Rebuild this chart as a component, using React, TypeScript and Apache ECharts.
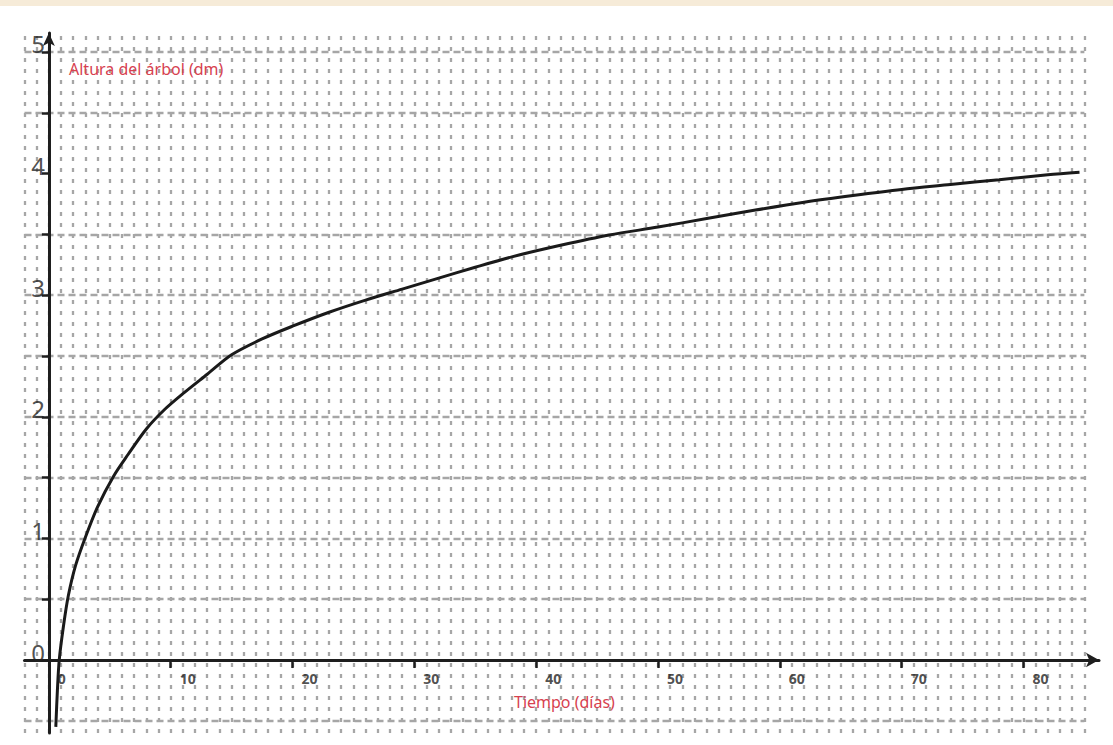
import React, { useEffect, useRef } from "react";
import * as echarts from "echarts";

// Curve: time (days) and tree height (dm)
const days = [0.57, 0.7, 0.85, 1.2, 1.6, 2.2, 3.0, 4.0, 5.3, 6.5, 8.0, 9.5, 11, 13, 15, 17.5, 20, 23, 26, 29, 32, 35, 38, 42, 46, 50, 54, 58, 62, 66, 70, 74, 78, 82, 84.6];
const heights = [-0.55, -0.25, 0.0, 0.28, 0.53, 0.78, 1.01, 1.26, 1.51, 1.69, 1.9, 2.06, 2.19, 2.35, 2.51, 2.64, 2.745, 2.86, 2.96, 3.05, 3.14, 3.23, 3.315, 3.41, 3.495, 3.56, 3.63, 3.7, 3.765, 3.82, 3.87, 3.91, 3.95, 3.99, 4.01];

const xTickValues = [0, 10, 20, 30, 40, 50, 60, 70, 80];
const yTickValues = [0.5, 1, 1.5, 2, 2.5, 3, 3.5, 4, 4.5, 5];
const yLabelValues = [0, 1, 2, 3, 4, 5];
const hLevels = [-0.5, 0.5, 1, 1.5, 2, 2.5, 3, 3.5, 4.5, 5];
const vFirstDay = -2;
const vLastDay = 85;

const X_MIN = -2;
const X_MAX = 86.2;
const Y_MIN = -0.6;
const Y_MAX = 5.156;

const FONT = "'Noto Sans', 'DejaVu Sans', sans-serif";
const RED = "#d7414f";
const INK = "#1e1e1e";
const GRIDC = "#a6a6a6";

export default function App() {
  const ref = useRef<HTMLDivElement>(null);

  useEffect(() => {
    document.body.style.margin = "0";
    if (!ref.current) return;
    const chart = echarts.init(ref.current, null, { renderer: "svg" });

    const gridLines: any[] = [];
    for (let d = vFirstDay; d <= vLastDay; d++) {
      gridLines.push([
        { coord: [d, Y_MIN], lineStyle: { color: GRIDC, width: 2.3, type: [4, 7] } },
        { coord: [d, Y_MAX] },
      ]);
    }
    hLevels.forEach((v) => {
      gridLines.push([
        { coord: [vFirstDay, v], lineStyle: { color: GRIDC, width: 2.3, type: [7, 4] } },
        { coord: [vLastDay, v] },
      ]);
    });

    chart.setOption({
      animation: false,
      backgroundColor: "#ffffff",
      grid: { left: 24.5, right: 14, top: 33, bottom: 12, outerBoundsMode: "none", containLabel: false },
      title: [
        {
          text: "Altura del árbol (dm)",
          left: 69,
          top: 61,
          padding: 0,
          textStyle: { color: RED, fontSize: 16, fontWeight: "normal", fontFamily: FONT },
        },
        {
          text: "Tiempo (días)",
          left: 514,
          top: 694,
          padding: 0,
          textStyle: { color: RED, fontSize: 16, fontWeight: "normal", fontFamily: FONT },
        },
      ],
      xAxis: {
        type: "value",
        min: X_MIN,
        max: X_MAX,
        z: 10,
        axisLine: {
          show: true,
          onZero: true,
          symbol: ["none", "arrow"],
          symbolSize: [11, 13],
          lineStyle: { color: INK, width: 3 },
        },
        axisTick: {
          show: true,
          customValues: xTickValues,
          length: 8,
          lineStyle: { color: INK, width: 2.5 },
        },
        axisLabel: { show: false },
        splitLine: { show: false },
      },
      yAxis: {
        type: "value",
        min: Y_MIN,
        max: Y_MAX,
        z: 10,
        axisLine: {
          show: true,
          onZero: true,
          symbol: ["none", "arrow"],
          symbolSize: [9, 13],
          lineStyle: { color: INK, width: 3 },
        },
        axisTick: {
          show: true,
          customValues: yTickValues,
          length: 7,
          lineStyle: { color: INK, width: 2.5 },
        },
        axisLabel: { show: false },
        splitLine: { show: false },
      },
      series: [
        {
          type: "line",
          data: [],
          z: 1,
          silent: true,
          markLine: {
            silent: true,
            symbol: ["none", "none"],
            label: { show: false },
            animation: false,
            data: gridLines,
          },
        },
        {
          type: "line",
          z: 5,
          data: days.map((d, i) => [d, heights[i]]),
          showSymbol: false,
          smooth: 0.3,
          lineStyle: { color: "#1a1a1a", width: 3 },
        },
        {
          // x tick labels, placed through the axis scale at (value, 0)
          type: "scatter",
          z: 11,
          silent: true,
          symbolSize: 0,
          data: xTickValues.map((v) => [v, 0]),
          label: {
            show: true,
            position: [9, 11],
            formatter: (p: any) => String(p.value[0]),
            fontSize: 14,
            fontWeight: "bold",
            color: "#222",
            fontFamily: FONT,
          },
        },
        {
          // y labels, placed through the axis scale at (0, value)
          type: "scatter",
          z: 11,
          silent: true,
          symbolSize: 0,
          data: yLabelValues.map((v) => [0, v]),
          label: {
            show: true,
            position: [-4, -8],
            align: "right",
            verticalAlign: "middle",
            formatter: (p: any) => String(p.value[1]),
            fontSize: 24,
            color: "#222",
            fontFamily: FONT,
          },
        },
      ],
    });

    return () => chart.dispose();
  }, []);

  return (
    <div style={{ position: "relative", width: 1113, height: 745, background: "#fff" }}>
      <div ref={ref} style={{ position: "absolute", left: 0, top: 0, width: 1113, height: 745 }} />
      <div
        style={{
          position: "absolute",
          left: 0,
          top: 0,
          width: 1113,
          height: 6,
          background: "#f6ebd8",
          zIndex: 2,
        }}
      />
    </div>
  );
}
